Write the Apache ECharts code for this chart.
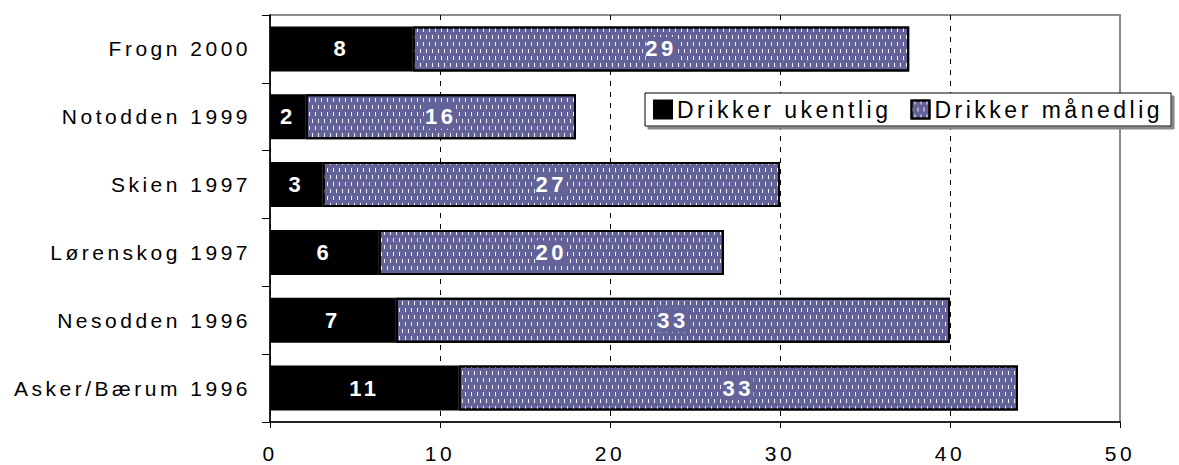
<!DOCTYPE html>
<html>
<head>
<meta charset="utf-8">
<script src="https://cdn.jsdelivr.net/npm/echarts/dist/echarts.min.js"></script>
<style>
    html, body { margin: 0; padding: 0; background: #fff; }
    #chart { width: 1179px; height: 465px; letter-spacing: 3.5px; }
</style>
</head>
<body>
<div id="chart"></div>
<script>
    var categories = ['Frogn 2000', 'Notodden 1999', 'Skien 1997', 'Lørenskog 1997', 'Nesodden 1996', 'Asker/Bærum 1996'];
    var weekly = [8.4, 2.1, 3.1, 6.4, 7.4, 11.1];
    var monthly = [29.2, 15.9, 26.9, 20.3, 32.6, 32.9];
    var xTicks = [0, 10, 20, 30, 40, 50];
    var seriesNames = ['Drikker ukentlig', 'Drikker månedlig'];

    var purple = '#636399';
    var fontFamily = 'Arial, "Liberation Sans", sans-serif';

    var chart = echarts.init(document.getElementById('chart'), null, { renderer: 'svg' });

    var option = {
        animation: false,
        textStyle: { fontFamily: fontFamily },
        grid: {
            left: 270,
            right: 59,
            top: 15,
            bottom: 43,
            containLabel: false,
            outerBoundsMode: 'none',
            show: true,
            borderColor: '#8c8c8c',
            borderWidth: 2,
            backgroundColor: '#fff'
        },
        legend: {
            data: seriesNames,
            left: 645,
            top: 93,
            icon: 'rect',
            itemWidth: 18,
            itemHeight: 18,
            itemGap: 75,
            padding: [5, 64, 5, 8],
            textStyle: { fontSize: 23, color: '#000', fontFamily: fontFamily },
            backgroundColor: '#fff',
            borderColor: '#000',
            borderWidth: 1,
            shadowColor: '#888',
            shadowBlur: 0,
            shadowOffsetX: 3,
            shadowOffsetY: 3
        },
        xAxis: {
            type: 'value',
            min: xTicks[0],
            max: xTicks[xTicks.length - 1],
            interval: xTicks[1] - xTicks[0],
            axisLine: { show: true, lineStyle: { color: '#000', width: 1.5 } },
            axisTick: { show: true, length: 6, lineStyle: { color: '#000' } },
            axisLabel: { fontSize: 21, color: '#000', margin: 21, fontFamily: fontFamily },
            splitLine: { show: true, showMaxLine: false, lineStyle: { color: '#000', type: [5, 6], width: 1 } }
        },
        yAxis: {
            type: 'category',
            data: categories,
            inverse: true,
            axisLine: { show: true, lineStyle: { color: '#000', width: 1.5 } },
            axisTick: { show: true, length: 8, alignWithLabel: false, lineStyle: { color: '#000' } },
            axisLabel: { fontSize: 21, color: '#000', margin: 19, fontFamily: fontFamily },
            splitLine: { show: false }
        },
        series: [
            {
                name: seriesNames[0],
                type: 'bar',
                stack: 'total',
                barWidth: 45,
                data: weekly,
                itemStyle: { color: '#000', borderColor: '#000', borderWidth: 2 },
                label: {
                    show: true,
                    position: 'inside',
                    color: '#fff',
                    fontSize: 22,
                    fontWeight: 'bold',
                    formatter: function (p) { return Math.round(p.value); }
                }
            },
            {
                name: seriesNames[1],
                type: 'bar',
                stack: 'total',
                barWidth: 45,
                data: monthly,
                itemStyle: {
                    color: purple,
                    borderColor: '#000',
                    borderWidth: 2,
                    decal: {
                        symbol: 'rect',
                        symbolSize: 1,
                        symbolKeepAspect: false,
                        color: 'rgba(255,255,255,0.9)',
                        backgroundColor: purple,
                        dashArrayX: [[1, 5], [0, 3, 1, 2]],
                        dashArrayY: [4, 3]
                    }
                },
                label: {
                    show: true,
                    position: 'inside',
                    color: '#fff',
                    fontSize: 22,
                    fontWeight: 'bold',
                    backgroundColor: purple,
                    padding: [1, 3],
                    formatter: function (p) { return Math.round(p.value); }
                }
            }
        ]
    };

    chart.setOption(option);
</script>
</body>
</html>
